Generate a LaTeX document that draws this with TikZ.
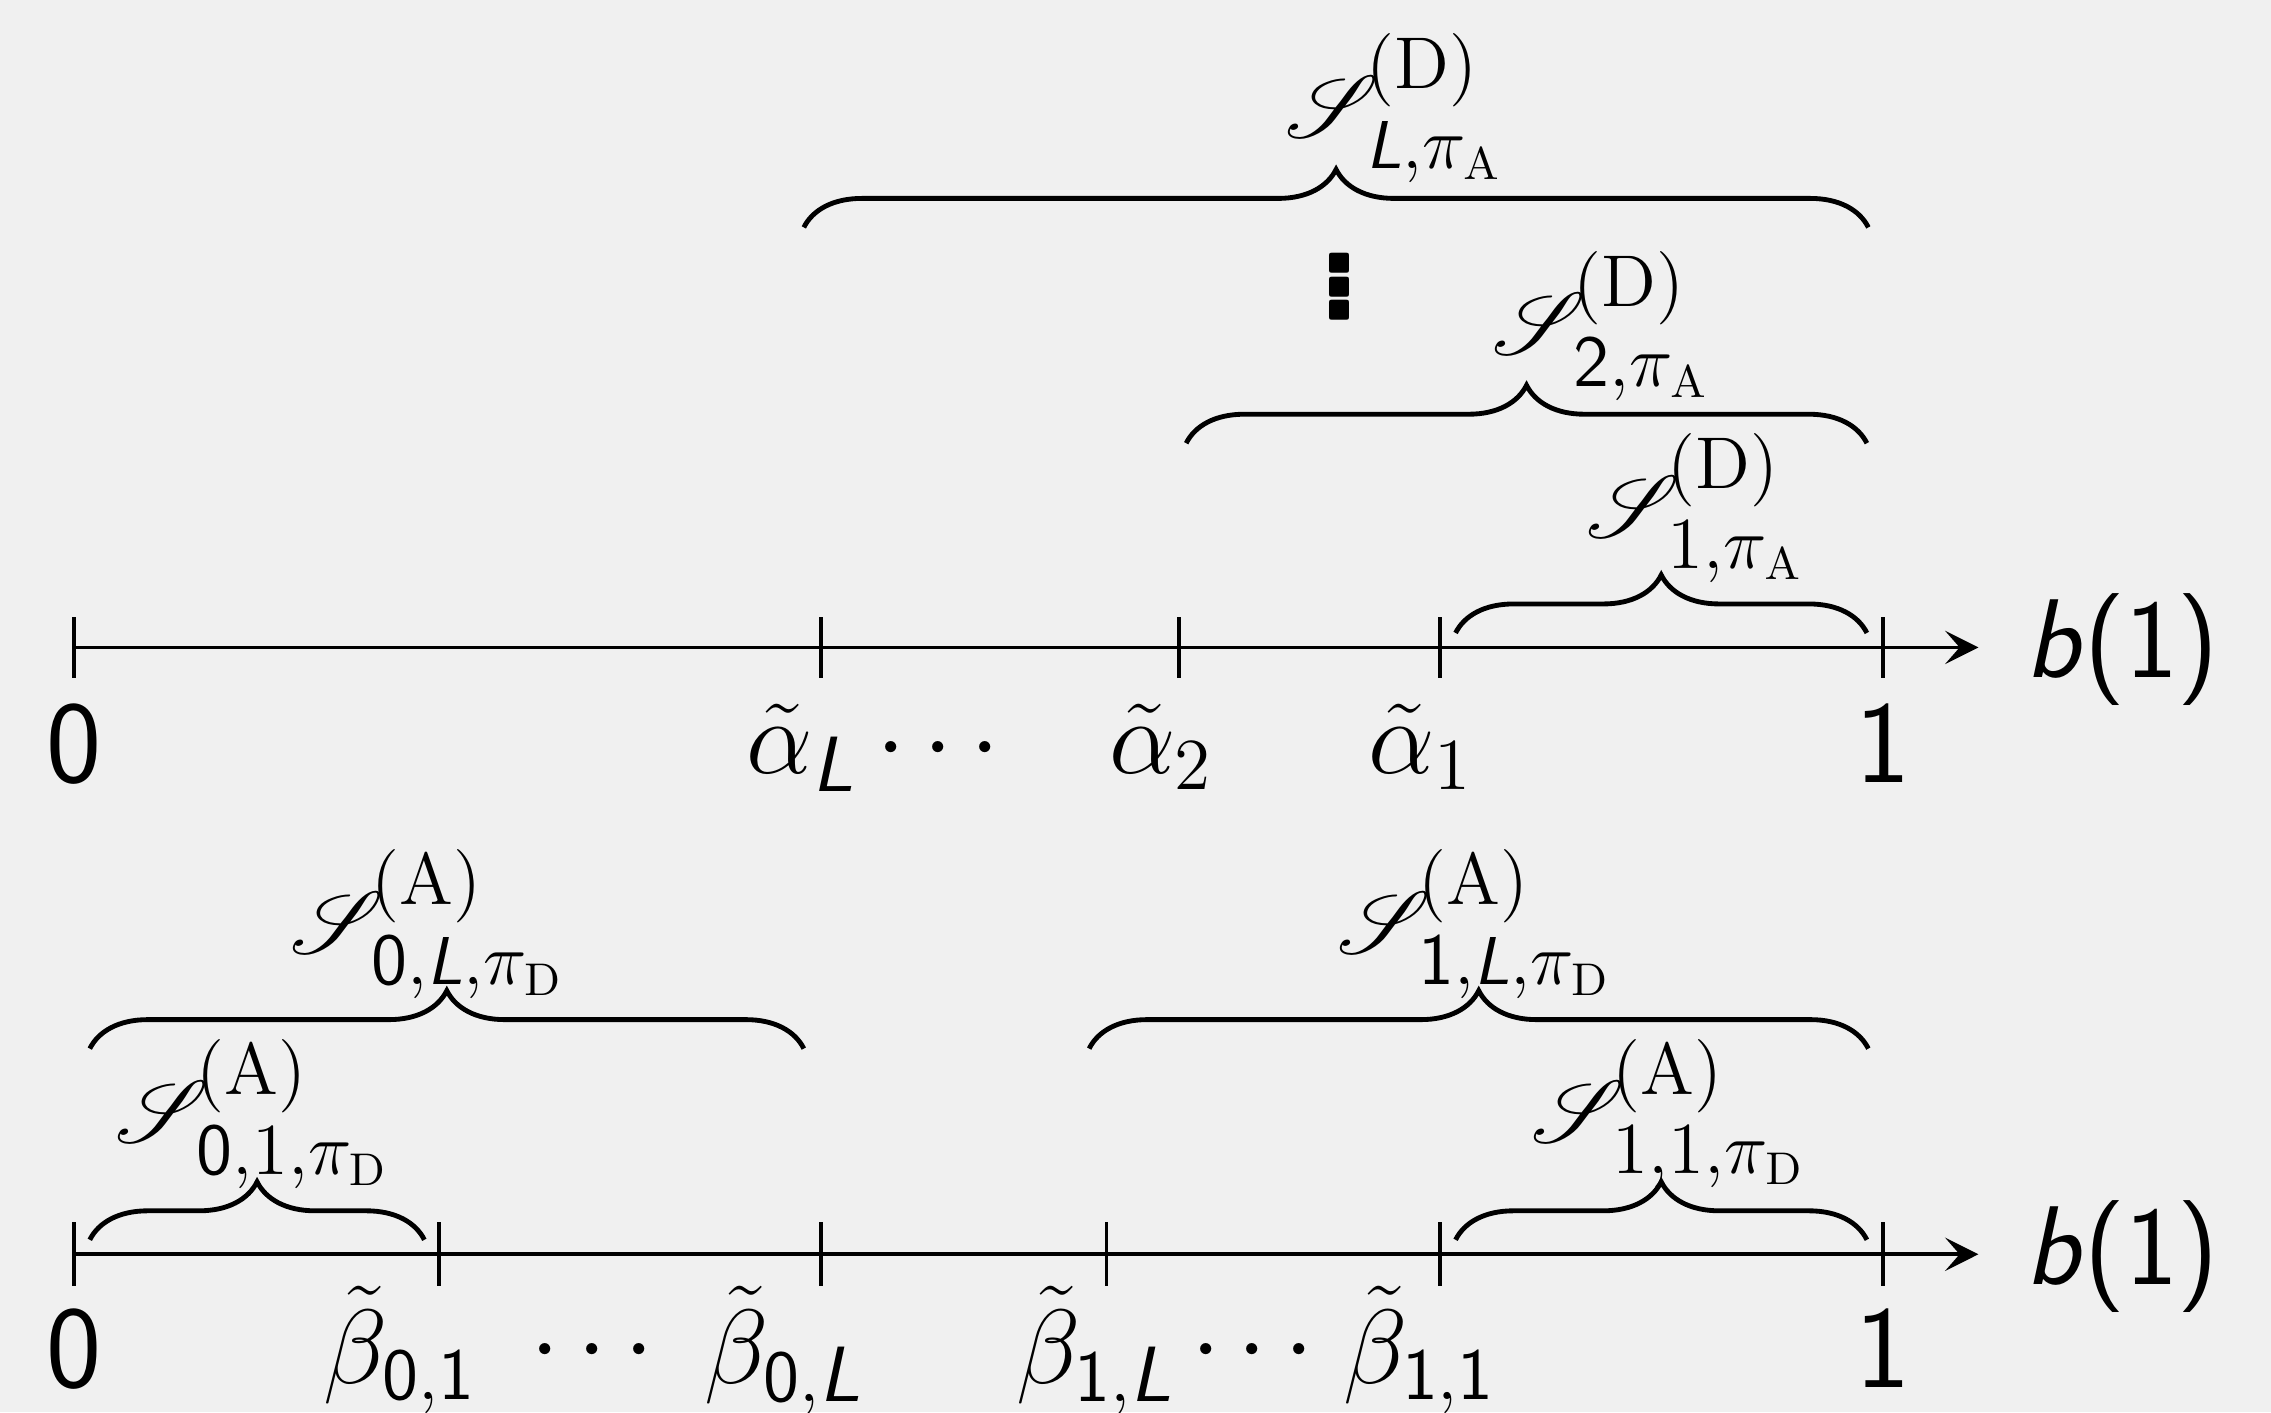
\documentclass[tikz,border=0pt]{standalone}
\usepackage{amsmath}
\usepackage{mathrsfs}
\usepackage{graphicx}
\usetikzlibrary{decorations.pathreplacing,arrows.meta}
\definecolor{bgc}{RGB}{240,240,240}
\newcommand{\sL}{\text{\sffamily\itshape L}}
\newcommand{\Scr}{\mathscr{S}\mkern-2.5mu{}}
\begin{document}
\begin{tikzpicture}[x=0.01cm,y=-0.01cm,
  axisline/.style={line width=0.7pt,-{Stealth[length=0.23cm,width=0.23cm,inset=0.1cm]}},
  tickmark/.style={line width=0.75pt},
  brc/.style={decorate,decoration={brace,amplitude=0.4cm},line width=0.95pt},
  ticklab/.style={inner sep=0pt,font=\fontsize{22}{26}\selectfont},
  diglab/.style={inner sep=0pt,font=\fontsize{23}{28}\selectfont},
  axlab/.style={inner sep=0pt,font=\fontsize{22}{26}\selectfont},
  brlab/.style={inner sep=0pt,font=\fontsize{19}{23}\selectfont}]
\fill[bgc] (0,0) rectangle (1568,975);
\useasboundingbox (0,0) rectangle (1568,975);
% ---------- top axis ----------
\coordinate (A0) at (51,447);
\coordinate (AL) at (567,447);
\coordinate (A2) at (814,447);
\coordinate (A1) at (994,447);
\coordinate (AO) at (1300,447);
\coordinate (AE) at (1366,447);
\draw[axisline] (A0) -- (AE);
\foreach \p in {A0,AL,A2,A1,AO} \draw[tickmark] (\p) ++(0,-21) -- ++(0,42);
\node[diglab,anchor=base] (t0) at (51,540) {\textsf{0}};
\node[ticklab,anchor=base west] (taL) at (515,534) {$\tilde{\alpha}_{\sL}$};
\node[ticklab,anchor=base] (tdA) at (654,534) {$\cdots$};
\node[ticklab,anchor=base west] (ta2) at (765,534) {$\tilde{\alpha}_2$};
\node[ticklab,anchor=base west] (ta1) at (944,534) {$\tilde{\alpha}_1$};
\node[diglab,anchor=base] (t1) at (1300,540) {\textsf{1}};
\node[axlab,anchor=base west] (tb) at (1398,468) {\textsf{\itshape b}\textsf{(1)}};
% braces top
\coordinate (bLl) at (555,157); \coordinate (bLr) at (1290,157);
\coordinate (b2l) at (819,306); \coordinate (b2r) at (1289,306);
\coordinate (b1l) at (1005,437); \coordinate (b1r) at (1289,437);
\draw[brc] (bLl) -- (bLr);
\draw[brc] (b2l) -- (b2r);
\draw[brc] (b1l) -- (b1r);
\node[brlab,anchor=base west] (sL) at (887,95) {$\Scr^{(\mathrm{D})}_{\sL,\pi_{\mathrm{A}}}$};
\node[brlab,anchor=base west] (s2) at (1030,245) {$\Scr^{(\mathrm{D})}_{\mathsf{2},\pi_{\mathrm{A}}}$};
\node[brlab,anchor=base west] (s1) at (1095,371) {$\Scr^{(\mathrm{D})}_{1,\pi_{\mathrm{A}}}$};
\node[inner sep=0pt] (vd) at (925,198) {\rotatebox{90}{\fontsize{30}{32}\selectfont\sffamily\bfseries .\kern-4.6pt.\kern-4.6pt.}};
% ---------- bottom axis ----------
\coordinate (B0) at (51,866);
\coordinate (B01) at (303,866);
\coordinate (B0L) at (567,866);
\coordinate (B1L) at (764,866);
\coordinate (B11) at (994,866);
\coordinate (BO) at (1300,866);
\coordinate (BE) at (1366,866);
\draw[axisline] (B0) -- (BE);
\foreach \p in {B0,B01,B0L,B1L,B11,BO} \draw[tickmark] (\p) ++(0,-22) -- ++(0,44);
\node[diglab,anchor=base] (u0) at (51,958) {\textsf{0}};
\node[ticklab,anchor=base west] (ub01) at (223,955) {$\tilde{\beta}_{\mathsf{0},\mathsf{1}}$};
\node[ticklab,anchor=base] (udA) at (415,950) {$\cdots$};
\node[ticklab,anchor=base west] (ub0L) at (486,955) {$\tilde{\beta}_{\mathsf{0},\sL}$};
\node[ticklab,anchor=base west] (ub1L) at (701,955) {$\tilde{\beta}_{\mathsf{1},\sL}$};
\node[ticklab,anchor=base] (udB) at (871,950) {$\cdots$};
\node[ticklab,anchor=base west] (ub11) at (927,955) {$\tilde{\beta}_{\mathsf{1},\mathsf{1}}$};
\node[diglab,anchor=base] (u1) at (1300,958) {\textsf{1}};
\node[axlab,anchor=base west] (ub) at (1398,887) {\textsf{\itshape b}\textsf{(1)}};
% braces bottom
\coordinate (c0Ll) at (62,724); \coordinate (c0Lr) at (555,724);
\coordinate (c01l) at (62,856); \coordinate (c01r) at (293,856);
\coordinate (c1Ll) at (752,724); \coordinate (c1Lr) at (1290,724);
\coordinate (c11l) at (1005,856); \coordinate (c11r) at (1289,856);
\draw[brc] (c0Ll) -- (c0Lr);
\draw[brc] (c01l) -- (c01r);
\draw[brc] (c1Ll) -- (c1Lr);
\draw[brc] (c11l) -- (c11r);
\node[brlab,anchor=base west] (s0L) at (200,658) {$\Scr^{(\mathrm{A})}_{\mathsf{0},\sL,\pi_{\mathrm{D}}}$};
\node[brlab,anchor=base west] (s01) at (79,789) {$\Scr^{(\mathrm{A})}_{\mathsf{0},1,\pi_{\mathrm{D}}}$};
\node[brlab,anchor=base west] (s1L) at (923,658) {$\Scr^{(\mathrm{A})}_{\mathsf{1},\sL,\pi_{\mathrm{D}}}$};
\node[brlab,anchor=base west] (s11) at (1057,789) {$\Scr^{(\mathrm{A})}_{1,1,\pi_{\mathrm{D}}}$};
\end{tikzpicture}
\end{document}
